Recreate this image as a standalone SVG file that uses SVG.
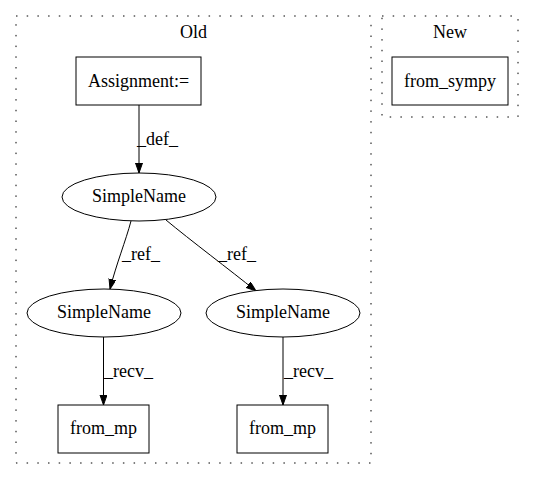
<svg xmlns="http://www.w3.org/2000/svg" width="536" height="480" viewBox="0 0 536 480">
<style>
text{font-family:"Liberation Serif",serif;font-size:18px;fill:#000}
.c{text-anchor:middle}
.node{fill:#fff;stroke:#000;stroke-width:1}
.cluster{fill:none;stroke:#000;stroke-width:1;stroke-dasharray:1.5,9.2}
.edge{fill:none;stroke:#000;stroke-width:1}
</style>
<defs>
<marker id="arr" markerUnits="userSpaceOnUse" markerWidth="11" markerHeight="8" refX="10" refY="3.5" orient="auto">
<path d="M0,0 L10,3.5 L0,7 z" fill="#000" stroke="#000" stroke-width="1"/>
</marker>
</defs>
<rect width="536" height="480" fill="#fff"/>
<g id="cluster_old">
<rect class="cluster" x="16" y="16" width="355" height="447"/>
<text class="c" x="193.5" y="38">Old</text>
</g>
<g id="cluster_new">
<rect class="cluster" x="382" y="16" width="136" height="101"/>
<text class="c" x="450" y="38">New</text>
</g>
<g id="edges">
<path class="edge" d="M139,105 L139,173" marker-end="url(#arr)"/>
<text x="137" y="145">_def_</text>
<path class="edge" d="M131,221 C126,240 116,265 110,289" marker-end="url(#arr)"/>
<text x="122" y="260">_ref_</text>
<path class="edge" d="M166,220 C190,240 230,270 256,291" marker-end="url(#arr)"/>
<text x="218" y="260">_ref_</text>
<path class="edge" d="M103.5,337 L103.5,405" marker-end="url(#arr)"/>
<text x="104" y="377">_recv_</text>
<path class="edge" d="M283,337 L283,405" marker-end="url(#arr)"/>
<text x="284" y="377">_recv_</text>
</g>
<g id="assignment">
<rect class="node" x="76" y="57" width="125" height="48"/>
<text class="c" x="138.5" y="87">Assignment:=</text>
</g>
<g id="from_sympy">
<rect class="node" x="392" y="57" width="116" height="48"/>
<text class="c" x="450" y="87">from_sympy</text>
</g>
<g id="simplename_top">
<ellipse class="node" cx="139" cy="197" rx="77" ry="24"/>
<text class="c" x="139" y="202">SimpleName</text>
</g>
<g id="simplename_left">
<ellipse class="node" cx="104" cy="313" rx="77" ry="24"/>
<text class="c" x="104" y="318">SimpleName</text>
</g>
<g id="simplename_right">
<ellipse class="node" cx="283" cy="313" rx="77" ry="24"/>
<text class="c" x="283" y="318">SimpleName</text>
</g>
<g id="from_mp_left">
<rect class="node" x="58" y="405" width="91" height="48"/>
<text class="c" x="103.5" y="434">from_mp</text>
</g>
<g id="from_mp_right">
<rect class="node" x="237" y="405" width="91" height="48"/>
<text class="c" x="282.5" y="434">from_mp</text>
</g>
</svg>
